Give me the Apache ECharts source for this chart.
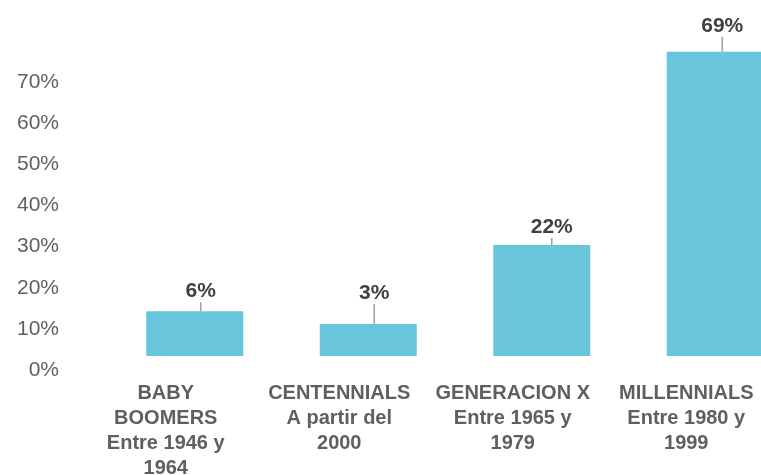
<!DOCTYPE html>
<html>
<head>
<meta charset="utf-8">
<script src="https://cdn.jsdelivr.net/npm/echarts@6/dist/echarts.min.js"></script>
<style>
  html, body { margin: 0; padding: 0; background: #fff; }
  #chart { width: 761px; height: 475px; }
</style>
</head>
<body>
<div id="chart"></div>
<script>
// generaciones (eje X)
const generaciones = [
  'BABY\nBOOMERS\nEntre 1946 y\n1964',
  'CENTENNIALS\nA partir del\n2000',
  'GENERACION X\nEntre 1965 y\n1979',
  'MILLENNIALS\nEntre 1980 y\n1999'
];
// porcentaje que muestra cada etiqueta
const porcentajes = [6, 3, 22, 69];
// borde superior de cada barra leido sobre el eje Y (%)
const alturaBarras = [14.3, 11.2, 30.4, 77.4];
// base de las barras leida sobre el eje Y (%)
const baseBarras = 3.4;

// desplazamiento de cada etiqueta respecto a su barra [dx, dy]
const ajusteEtiqueta = [[6, -4], [6, -15], [10, -2], [7, -10]];

const chart = echarts.init(document.getElementById('chart'), null, { renderer: 'canvas' });

const fuente = "'Liberation Sans', Arial, sans-serif";

chart.setOption({
  animation: false,
  backgroundColor: '#ffffff',
  grid: [
    // ejes visibles
    { left: 79, width: 694, top: 82, bottom: 105, outerBoundsMode: 'none' },
    // barras (desplazadas a la derecha como en el original)
    { left: 108, width: 694, top: 41, bottom: 119, outerBoundsMode: 'none' }
  ],
  xAxis: [
    {
      type: 'category',
      gridIndex: 0,
      data: generaciones,
      axisLine: { show: false },
      axisTick: { show: false },
      axisLabel: {
        interval: 0,
        margin: 11,
        fontFamily: fuente,
        fontSize: 20,
        fontWeight: 'bold',
        lineHeight: 25,
        color: '#5f5f5f'
      }
    },
    {
      type: 'category',
      gridIndex: 1,
      data: generaciones,
      show: false
    }
  ],
  yAxis: [
    {
      type: 'value',
      gridIndex: 0,
      min: 0,
      max: 70,
      interval: 10,
      axisLine: { show: false },
      axisTick: { show: false },
      splitLine: { show: false },
      axisLabel: {
        margin: 20,
        formatter: '{value}%',
        fontFamily: fuente,
        fontSize: 21,
        color: '#606060'
      }
    },
    {
      type: 'value',
      gridIndex: 1,
      min: baseBarras,
      max: 80,
      show: false,
      splitLine: { show: false }
    }
  ],
  series: [
    {
      type: 'bar',
      xAxisIndex: 1,
      yAxisIndex: 1,
      data: alturaBarras,
      barWidth: 97,
      clip: true,
      itemStyle: { color: '#68c5dc' },
      label: {
        show: true,
        position: 'top',
        formatter: (p) => porcentajes[p.dataIndex] + '%',
        fontFamily: fuente,
        fontSize: 21,
        fontWeight: 'bold',
        color: '#404040'
      },
      labelLayout: (p) => ({
        dx: ajusteEtiqueta[p.dataIndex][0],
        dy: ajusteEtiqueta[p.dataIndex][1]
      }),
      labelLine: {
        show: true,
        lineStyle: { color: '#a0a0a0', width: 1.5 }
      }
    }
  ]
});
</script>
</body>
</html>
